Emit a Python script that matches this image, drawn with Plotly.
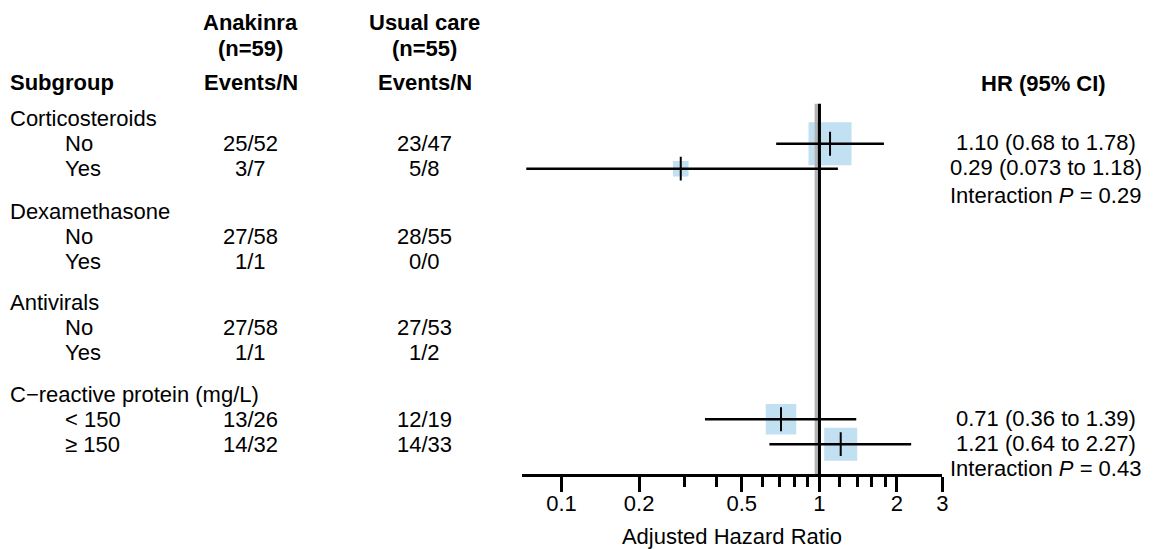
import math
import plotly.graph_objects as go

# ---------------- data ----------------
groups = ["Corticosteroids", "Dexamethasone", "Antivirals", "C\u2212reactive protein (mg/L)"]
levels = ["No", "Yes", "No", "Yes", "No", "Yes", "&lt; 150", "\u2265 150"]
level_group = [0, 0, 1, 1, 2, 2, 3, 3]
anakinra_events = ["25/52", "3/7", "27/58", "1/1", "27/58", "1/1", "13/26", "14/32"]
usual_events = ["23/47", "5/8", "28/55", "0/0", "27/53", "1/2", "12/19", "14/33"]
hr = [1.10, 0.29, None, None, None, None, 0.71, 1.21]
hr_lo = [0.68, 0.073, None, None, None, None, 0.36, 0.64]
hr_hi = [1.78, 1.18, None, None, None, None, 1.39, 2.27]
hr_text = ["1.10 (0.68 to 1.78)", "0.29 (0.073 to 1.18)", "", "", "", "", "0.71 (0.36 to 1.39)", "1.21 (0.64 to 2.27)"]
interaction_p = ["0.29", None, None, "0.43"]
overall_hr = 0.97
null_hr = 1.0
major_ticks = [0.1, 0.2, 0.5, 1, 2, 3]
major_labels = ["0.1", "0.2", "0.5", "1", "2", "3"]
minor_ticks = [0.3, 0.4, 0.6, 0.7, 0.8, 0.9, 1.2, 1.4, 1.6, 1.8]
x_min, x_max = 0.07, 3.0

# ---------------- layout constants (pixels) ----------------
W, H = 1157, 549
group_y = [119, 211.7, 303, 395.7]
level_y = [144, 169, 236.7, 261.5, 327.7, 353, 420, 445]
interaction_y = [196, None, None, 469]
box_px = [43, 15.5, None, None, None, None, 30.5, 33]
axis_y = 476
line_top = 104
FONT = "Liberation Sans, Arial, sans-serif"
FS = 22
BOX = "#a6d4ec"
x_lab, x_lvl, x_ana, x_usu, x_hr, x_hrhead = 8, 63, 252, 427, 1051, 1049
ax_left, ax_right = 524.3, 947.3

fig = go.Figure()

idx = [i for i, v in enumerate(hr) if v is not None]

# boxes
fig.add_trace(go.Scatter(
    x=[hr[i] for i in idx], y=[level_y[i] for i in idx], mode="markers",
    marker=dict(symbol="square", size=[box_px[i] for i in idx], color=BOX, line=dict(width=0)),
    hoverinfo="skip", showlegend=False))

# reference lines
fig.add_trace(go.Scatter(x=[overall_hr, overall_hr], y=[line_top, axis_y], mode="lines",
                         line=dict(color="#b3b3b3", width=2.6), hoverinfo="skip", showlegend=False))
fig.add_trace(go.Scatter(x=[null_hr, null_hr], y=[line_top, axis_y], mode="lines",
                         line=dict(color="black", width=3.2), hoverinfo="skip", showlegend=False))

# CI lines
for i in idx:
    fig.add_trace(go.Scatter(x=[hr_lo[i], hr_hi[i]], y=[level_y[i], level_y[i]], mode="lines",
                             line=dict(color="black", width=2.6), hoverinfo="skip", showlegend=False))

# point ticks
fig.add_trace(go.Scatter(
    x=[hr[i] for i in idx], y=[level_y[i] for i in idx], mode="markers",
    marker=dict(symbol="line-ns", size=17, line=dict(color="black", width=2)),
    hoverinfo="skip", showlegend=False))

ann = []
def txt(x, y, s, anchor="center", bold=False):
    ann.append(dict(x=x / W, y=y, xref="paper", yref="y", text=("<b>%s</b>" % s) if bold else s,
                    showarrow=False, xanchor=anchor, yanchor="middle",
                    font=dict(family=FONT, size=FS, color="black")))

# headers
txt(x_ana, 23, "Anakinra", bold=True)
txt(x_ana, 49, "(n=59)", bold=True)
txt(x_usu, 23, "Usual care", bold=True)
txt(x_usu, 49, "(n=55)", bold=True)
txt(x_lab, 83, "Subgroup", anchor="left", bold=True)
txt(x_ana, 83, "Events/N", bold=True)
txt(x_usu, 83, "Events/N", bold=True)
txt(x_hrhead, 84, "HR (95% CI)", bold=True)

for g, name in enumerate(groups):
    txt(x_lab, group_y[g], name, anchor="left")
    if interaction_p[g] is not None:
        txt(x_hr, interaction_y[g], "Interaction <i>P</i> = " + interaction_p[g])
for i, lv in enumerate(levels):
    txt(x_lvl, level_y[i], lv, anchor="left")
    txt(x_ana, level_y[i], anakinra_events[i])
    txt(x_usu, level_y[i], usual_events[i])
    if hr_text[i]:
        txt(x_hr, level_y[i] - 1, hr_text[i])

fig.update_layout(
    width=W, height=H, margin=dict(l=0, r=0, t=0, b=0),
    paper_bgcolor="white", plot_bgcolor="white",
    annotations=ann, showlegend=False,
    xaxis=dict(type="log", range=[math.log10(x_min), math.log10(x_max)],
               domain=[ax_left / W, ax_right / W], anchor="free", position=(H - axis_y) / H,
               showline=True, linecolor="black", linewidth=3,
               showgrid=False, zeroline=False,
               tickmode="array", tickvals=major_ticks, ticktext=major_labels,
               ticks="outside", ticklen=15, tickwidth=3, tickcolor="black",
               ticklabelstandoff=-8,
               tickfont=dict(family=FONT, size=FS, color="black"),
               minor=dict(tickmode="array", tickvals=minor_ticks, ticks="outside",
                          ticklen=10, tickwidth=3, tickcolor="black", showgrid=False),
               title=dict(text="Adjusted Hazard Ratio", font=dict(family=FONT, size=FS, color="black"),
                          standoff=18)),
    yaxis=dict(range=[H, 0], domain=[0, 1], visible=False, showgrid=False, zeroline=False),
)

fig.write_html("out.html", config={"displayModeBar": False},
               post_script="document.body.style.margin='0';document.body.style.overflow='hidden';")
